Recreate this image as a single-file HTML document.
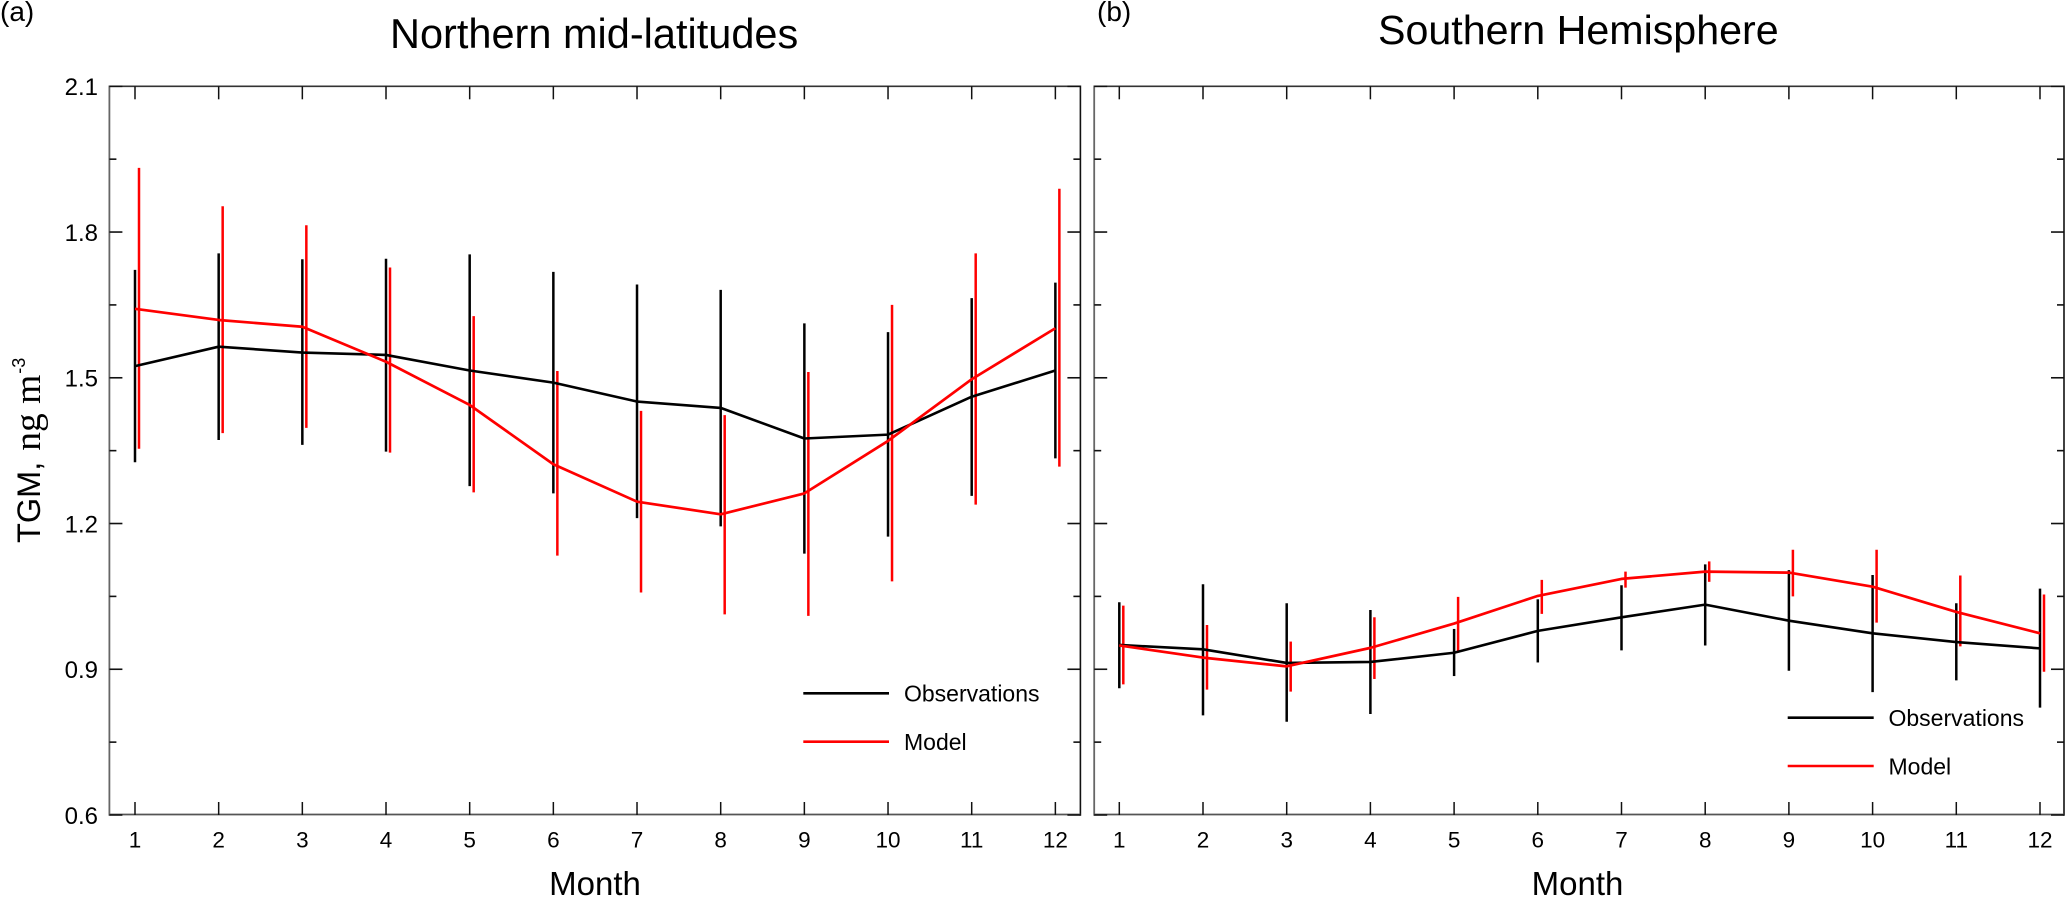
<!DOCTYPE html>
<html lang="en">
<head>
<meta charset="utf-8">
<title>TGM seasonal cycle</title>
<style>
html,body{margin:0;padding:0;background:#fff;}
svg{display:block;font-family:"Liberation Sans",sans-serif;fill:#000;}
</style>
</head>
<body>
<svg id="chart" width="2067" height="898" viewBox="0 0 2067 898" xmlns="http://www.w3.org/2000/svg">
  <rect x="0" y="0" width="2067" height="898" fill="#fff"/>
  <text x="0" y="21" font-size="28">(a)</text>
  <text x="1097" y="21" font-size="28">(b)</text>
  <text x="390" y="48" font-size="41.5">Northern mid-latitudes</text>
  <text x="1378" y="44" font-size="41.2">Southern Hemisphere</text>
  <text transform="translate(40,543) rotate(-90)" font-size="32.5">TGM,<tspan font-family="'Liberation Serif',serif" font-size="37.5" dx="11">ng m</tspan><tspan font-size="18" dy="-15" dx="1">-3</tspan></text>
  <text x="595" y="895" font-size="33" text-anchor="middle">Month</text>
  <text x="1577.5" y="895" font-size="33" text-anchor="middle">Month</text>
  <g>
    <line x1="803.3" x2="889" y1="693.3" y2="693.3" stroke="#000" stroke-width="2.6"/>
    <text x="904" y="701.7" font-size="23">Observations</text>
    <line x1="803.3" x2="889" y1="741.7" y2="741.7" stroke="#f00" stroke-width="2.6"/>
    <text x="904" y="750" font-size="23">Model</text>
  </g>
  <g>
    <line x1="1787.7" x2="1873.7" y1="717.7" y2="717.7" stroke="#000" stroke-width="2.6"/>
    <text x="1888.5" y="726" font-size="23">Observations</text>
    <line x1="1787.7" x2="1873.7" y1="766" y2="766" stroke="#f00" stroke-width="2.6"/>
    <text x="1888.5" y="774.5" font-size="23">Model</text>
  </g>
</svg>
<script>
var months = [1,2,3,4,5,6,7,8,9,10,11,12];
var yMajorTicks = [2.1,1.8,1.5,1.2,0.9,0.6];
var yMinorTicks = [1.95,1.65,1.35,1.05,0.75];

var northObsMean  = [1.524,1.564,1.552,1.547,1.515,1.490,1.451,1.438,1.375,1.383,1.461,1.515];
var northObsUpper = [1.722,1.756,1.744,1.745,1.754,1.718,1.692,1.681,1.612,1.594,1.664,1.696];
var northObsLower = [1.326,1.372,1.362,1.348,1.277,1.262,1.211,1.194,1.138,1.173,1.257,1.334];
var northModelMean  = [1.642,1.619,1.605,1.533,1.444,1.322,1.245,1.219,1.262,1.370,1.497,1.602];
var northModelUpper = [1.932,1.853,1.814,1.727,1.627,1.514,1.432,1.423,1.512,1.650,1.756,1.889];
var northModelLower = [1.354,1.386,1.397,1.346,1.264,1.134,1.058,1.013,1.010,1.081,1.239,1.317];

var southObsMean  = [0.950,0.941,0.913,0.915,0.934,0.979,1.007,1.033,1.000,0.974,0.956,0.943];
var southObsUpper = [1.038,1.075,1.036,1.022,0.983,1.044,1.073,1.116,1.104,1.094,1.036,1.066];
var southObsLower = [0.861,0.805,0.792,0.808,0.886,0.914,0.939,0.949,0.897,0.853,0.877,0.821];
var southModelMean  = [0.949,0.924,0.906,0.944,0.994,1.051,1.086,1.101,1.099,1.070,1.018,0.974];
var southModelUpper = [1.031,0.991,0.957,1.007,1.049,1.084,1.101,1.122,1.146,1.146,1.093,1.054];
var southModelLower = [0.869,0.858,0.854,0.880,0.936,1.014,1.068,1.080,1.050,0.996,0.947,0.895];

var NS = 'http://www.w3.org/2000/svg';
var svg = document.getElementById('chart');
var plotTop = 86.3, plotBottom = 815, valueMax = 2.1, valueMin = 0.6;

function yScale(v){
  return plotTop + (valueMax - v) * (plotBottom - plotTop) / (valueMax - valueMin);
}
function makeLine(parent, x1, y1, x2, y2, color, width){
  var el = document.createElementNS(NS, 'line');
  el.setAttribute('x1', x1);
  el.setAttribute('y1', y1);
  el.setAttribute('x2', x2);
  el.setAttribute('y2', y2);
  el.setAttribute('stroke', color);
  el.setAttribute('stroke-width', width);
  parent.appendChild(el);
  return el;
}
function makeGroup(parent, label){
  var g = document.createElementNS(NS, 'g');
  
  
  parent.appendChild(g);
  return g;
}
function makeSeries(parent, xScale, label, values, color, w){
  var p = document.createElementNS(NS, 'polyline');
  var pts = [];
  for (var i = 0; i < months.length; i++) {
    pts.push(xScale(months[i]).toFixed(2) + ',' + yScale(values[i]).toFixed(2));
  }
  p.setAttribute('points', pts.join(' '));
  p.setAttribute('fill', 'none');
  p.setAttribute('stroke', color);
  p.setAttribute('stroke-width', w);
  p.setAttribute('stroke-linejoin', 'round');
  
  
  parent.appendChild(p);
}
function makeBars(parent, xScale, offset, label, upper, lower, color){
  var g = makeGroup(parent, label);
  for (var i = 0; i < months.length; i++) {
    var x = xScale(months[i]) + offset;
    var bar = makeLine(g, x, yScale(upper[i]), x, yScale(lower[i]), color, 2.5);
    
    
  }
}
function drawPanel(id, left, right, x1, step, showYLabels, obsMean, obsUpper, obsLower, modMean, modUpper, modLower){
  var xScale = function(m){ return x1 + (m - 1) * step; };
  var panel = makeGroup(svg, 'panel-' + id);

  makeBars(panel, xScale, 0, 'observation-error-bars-' + id, obsUpper, obsLower, '#000');
  makeBars(panel, xScale, 4, 'model-error-bars-' + id, modUpper, modLower, '#f00');
  makeSeries(panel, xScale, 'observations-line-' + id, obsMean, '#000', 2.6);
  makeSeries(panel, xScale, 'model-line-' + id, modMean, '#f00', 2.7);

  var axes = makeGroup(panel, 'axes-' + id);
  var leftEdge = makeLine(axes, left, plotTop - 0.8, left, plotBottom + 0.8, '#666', 1.8);
  
  
  var rightEdge = makeLine(axes, right, plotTop - 0.8, right, plotBottom + 0.8, '#111', 1.6);
  
  
  var topEdge = makeLine(axes, left, plotTop, right, plotTop, '#333', 1.6);
  
  
  var bottomEdge = makeLine(axes, left, plotBottom - 0.5, right, plotBottom - 0.5, '#555', 1.8);
  
  

  months.forEach(function(m){
    var x = xScale(m);
    var tickTop = makeLine(axes, x, plotTop, x, plotTop + 13, '#111', 1.5);
    
    
    var tickBottom = makeLine(axes, x, plotBottom, x, plotBottom - 13, '#111', 1.5);
    
    
    var t = document.createElementNS(NS, 'text');
    t.setAttribute('x', x);
    t.setAttribute('y', 847.5);
    t.setAttribute('font-size', 22.5);
    t.setAttribute('text-anchor', 'middle');
    
    
    t.textContent = String(m);
    panel.appendChild(t);
  });

  yMajorTicks.forEach(function(v){
    var y = yScale(v);
    var tl = makeLine(axes, left, y, left + 13, y, '#111', 1.6);
    
    
    var tr = makeLine(axes, right, y, right - 13, y, '#111', 1.6);
    
    
    if (showYLabels) {
      var t = document.createElementNS(NS, 'text');
      t.setAttribute('x', 98);
      t.setAttribute('y', y + 8.8);
      t.setAttribute('font-size', 24);
      t.setAttribute('text-anchor', 'end');
      
      
      t.textContent = v.toFixed(1);
      panel.appendChild(t);
    }
  });
  yMinorTicks.forEach(function(v){
    var y = yScale(v);
    var tl = makeLine(axes, left, y, left + 7, y, '#111', 1.6);
    
    
    var tr = makeLine(axes, right, y, right - 7, y, '#111', 1.6);
    
    
  });
}

drawPanel('a', 109.4, 1080.4, 135, 83.67, true, northObsMean, northObsUpper, northObsLower, northModelMean, northModelUpper, northModelLower);
drawPanel('b', 1094.2, 2064, 1119.3, 83.7, false, southObsMean, southObsUpper, southObsLower, southModelMean, southModelUpper, southModelLower);
</script>
</body>
</html>
